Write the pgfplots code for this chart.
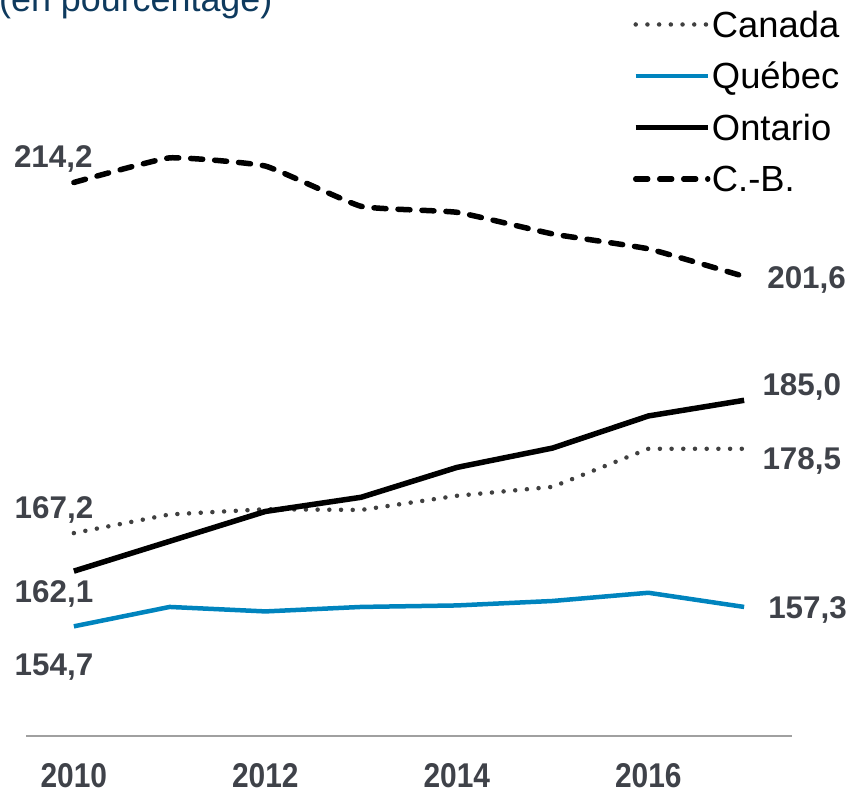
\documentclass[border=0pt]{standalone}
\usepackage{pgfplots}
\pgfplotsset{compat=1.18}
\usepackage{fontspec}
\setmainfont{Liberation Sans}
\definecolor{titleblue}{RGB}{14,58,94}
\definecolor{lblgray}{RGB}{63,66,73}
\definecolor{qcblue}{RGB}{0,132,190}
\definecolor{dotgray}{RGB}{64,64,64}
\definecolor{axgray}{RGB}{160,160,160}
\tikzset{lbl/.style={font=\fontsize{31.5}{38}\selectfont\bfseries, text=lblgray, anchor=west, inner sep=0pt, yshift=-3bp}}
\begin{document}
\begin{tikzpicture}
\begin{axis}[
  at={(0,0)}, anchor=south west,
  scale only axis, width=766bp, height=746bp,
  xmin=2009.5, xmax=2017.5, ymin=140, ymax=240,
  clip=false,
  axis x line=bottom, axis y line=none,
  x axis line style={-, draw=axgray, line width=2.5bp},
  xtick={2010,2012,2014,2016},
  xticklabels={2010,2012,2014,2016},
  major tick length=0pt,
  xticklabel style={font=\fontsize{34.5}{40}\selectfont\bfseries, xscale=0.87, text=lblgray, inner sep=0pt, anchor=north, yshift=-27bp},
  legend cell align=left,
  legend style={at={(0.7924,0.9732)}, anchor=north west, draw=none, fill=none,
    inner sep=0pt, outer sep=0pt, row sep=22.5bp,
    font=\fontsize{36.5}{43}\selectfont,
    nodes={inner sep=1.5bp, text height=26bp, text depth=0bp}},
  legend image code/.code={\draw[#1] (0bp,0bp) -- (72bp,0bp);},
]
\addplot[dotgray, line width=4.5bp, line cap=round, dash pattern=on 0pt off 11.7bp] coordinates {
(2010,167.2) (2011,169.7) (2012,170.4) (2013,170.3) (2014,172.2) (2015,173.4) (2016,178.5) (2017,178.5)};
\addlegendentry{Canada}
\addplot[qcblue, line width=4.5bp] coordinates {
(2010,154.7) (2011,157.3) (2012,156.7) (2013,157.3) (2014,157.5) (2015,158.1) (2016,159.2) (2017,157.3)};
\addlegendentry{Québec}
\addplot[black, line width=5.5bp] coordinates {
(2010,162.1) (2011,166.1) (2012,170.1) (2013,172.0) (2014,176.0) (2015,178.6) (2016,182.9) (2017,185.0)};
\addlegendentry{Ontario}
\addplot[black, line width=5.5bp, line cap=round, dash pattern=on 12bp off 12bp, smooth, tension=0.22] coordinates {
(2010,214.2) (2011,217.5) (2012,216.4) (2013,211.0) (2014,210.2) (2015,207.3) (2016,205.3) (2017,201.6)};
\addlegendentry{C.-B.}
\node[lbl] at (axis cs:2009.373,217.7) {214,2};
\node[lbl] at (axis cs:2009.38,170.68) {167,2};
\node[lbl] at (axis cs:2009.38,159.42) {162,1};
\node[lbl] at (axis cs:2009.38,149.63) {154,7};
\node[lbl] at (axis cs:2017.24,201.5) {201,6};
\node[lbl] at (axis cs:2017.19,187.17) {185,0};
\node[lbl] at (axis cs:2017.19,177.25) {178,5};
\node[lbl] at (axis cs:2017.25,157.27) {157,3};
\end{axis}
\node[anchor=base west, inner sep=0pt, text=titleblue, font=\fontsize{36}{43}\selectfont] at (-27bp,724bp) {(en pourcentage)};
\pgfresetboundingbox
\useasboundingbox (-26bp,-52bp) rectangle (824bp,736bp);
\end{tikzpicture}
\end{document}
